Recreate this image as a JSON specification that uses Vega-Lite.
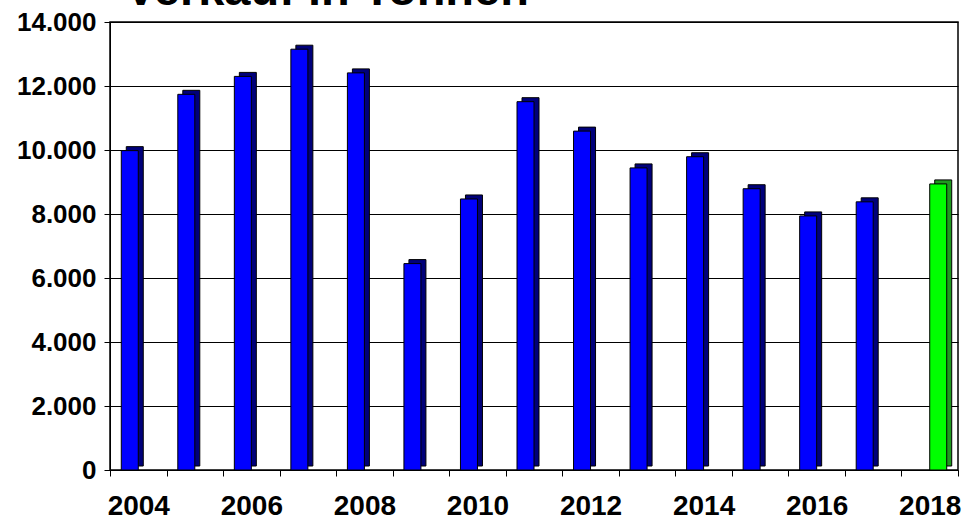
{
  "$schema": "https://vega.github.io/schema/vega-lite/v6.json",
  "autosize": {"type": "none"},
  "width": 848,
  "height": 448,
  "padding": {"left": 110, "top": 22, "right": 7, "bottom": 50},
  "background": "white",
  "title": {
    "text": "Verkauf in Tonnen",
    "font": "Liberation Sans",
    "fontSize": 47,
    "fontWeight": "bold",
    "color": "#000000",
    "anchor": "start",
    "frame": "group",
    "baseline": "alphabetic",
    "offset": 0,
    "dx": 15,
    "dy": 43
  },
  "data": {
    "values": [
      {"year": 2004, "value": 9980, "series": "Ist"},
      {"year": 2005, "value": 11740, "series": "Ist"},
      {"year": 2006, "value": 12300, "series": "Ist"},
      {"year": 2007, "value": 13150, "series": "Ist"},
      {"year": 2008, "value": 12410, "series": "Ist"},
      {"year": 2009, "value": 6450, "series": "Ist"},
      {"year": 2010, "value": 8470, "series": "Ist"},
      {"year": 2011, "value": 11510, "series": "Ist"},
      {"year": 2012, "value": 10590, "series": "Ist"},
      {"year": 2013, "value": 9440, "series": "Ist"},
      {"year": 2014, "value": 9790, "series": "Ist"},
      {"year": 2015, "value": 8790, "series": "Ist"},
      {"year": 2016, "value": 7940, "series": "Ist"},
      {"year": 2017, "value": 8380, "series": "Ist"},
      {"year": 2018, "value": 8940, "series": "Prognose"}
    ]
  },
  "encoding": {
    "x": {
      "field": "year",
      "type": "ordinal",
      "scale": {"paddingInner": 0, "paddingOuter": 0},
      "axis": {
        "title": null,
        "labelAngle": 0,
        "labelFont": "Liberation Sans",
        "labelFontSize": 28,
        "labelFontWeight": "bold",
        "labelColor": "#000000",
        "labelPadding": 16,
        "labelExpr": "datum.value % 2 == 0 ? datum.label : ''",
        "tickBand": "extent",
        "tickColor": "#000000",
        "tickSize": 6,
        "domainColor": "#000000",
        "grid": false
      }
    },
    "y": {
      "field": "value",
      "type": "quantitative",
      "scale": {"domain": [0, 14000], "nice": false},
      "axis": {
        "title": null,
        "values": [0, 2000, 4000, 6000, 8000, 10000, 12000, 14000],
        "labelExpr": "replace(format(datum.value, ',d'), ',', '.')",
        "labelFont": "Liberation Sans",
        "labelFontSize": 26,
        "labelFontWeight": "bold",
        "labelColor": "#000000",
        "labelPadding": 8,
        "tickColor": "#000000",
        "tickSize": 6,
        "domainColor": "#000000",
        "grid": true,
        "gridColor": "#000000",
        "gridWidth": 1,
        "gridOpacity": 1
      }
    }
  },
  "layer": [
    {
      "mark": {
        "type": "bar",
        "width": 17,
        "xOffset": {"expr": "datum.series == 'Ist' ? -3.5 : 13.5"},
        "yOffset": -4,
        "y2Offset": -4,
        "stroke": "#000000",
        "strokeWidth": 1
      },
      "encoding": {
        "color": {
          "field": "series",
          "type": "nominal",
          "scale": {"domain": ["Ist", "Prognose"], "range": ["#00007a", "#1f9a1f"]},
          "legend": null
        }
      }
    },
    {
      "mark": {
        "type": "bar",
        "width": 17,
        "xOffset": {"expr": "datum.series == 'Ist' ? -8.5 : 8.5"},
        "stroke": "#000000",
        "strokeWidth": 1
      },
      "encoding": {
        "color": {
          "field": "series",
          "type": "nominal",
          "scale": {"domain": ["Ist", "Prognose"], "range": ["#0000ff", "#00ff00"]},
          "legend": null
        }
      }
    }
  ],
  "resolve": {"scale": {"color": "independent"}},
  "config": {
    "view": {"stroke": "#000000", "strokeWidth": 1.5},
    "bar": {"opacity": 1}
  }
}
